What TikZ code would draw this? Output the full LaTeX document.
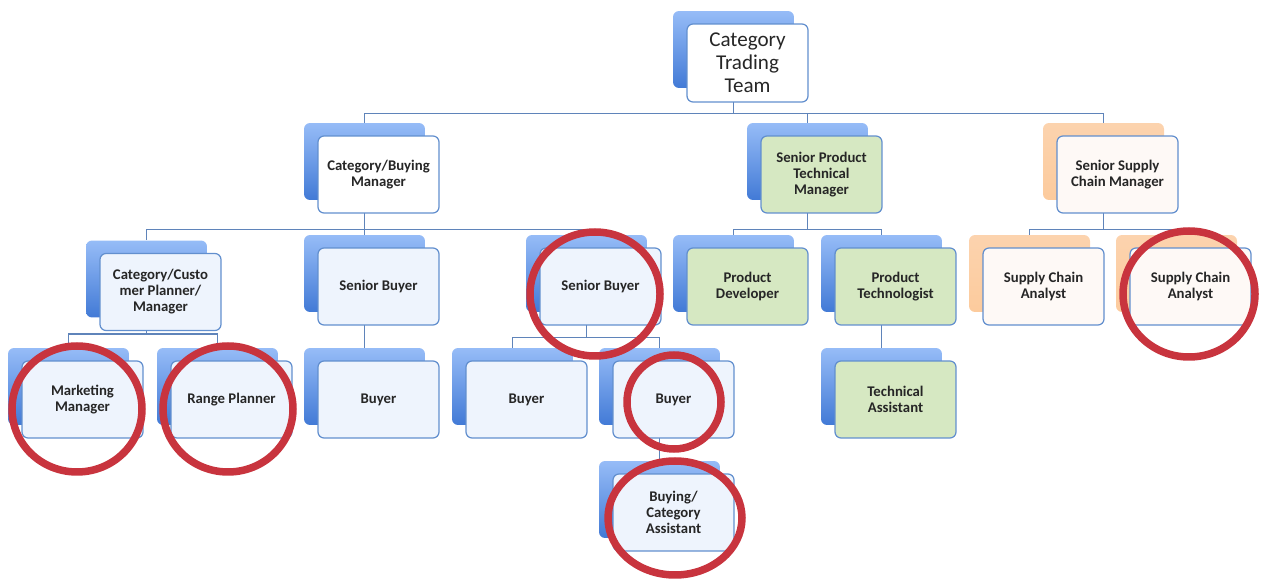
\documentclass[tikz,border=0pt]{standalone}
\usepackage{fontspec}
\setmainfont{Carlito}
\usetikzlibrary{backgrounds}

\definecolor{linkblue}{RGB}{95,132,186}
\definecolor{edgeblue}{RGB}{98,143,206}
\definecolor{backtop}{RGB}{150,188,247}
\definecolor{backbot}{RGB}{66,122,214}
\definecolor{peach}{RGB}{252,211,174}
\definecolor{paleblue}{RGB}{238,244,253}
\definecolor{palegreen}{RGB}{214,232,194}
\definecolor{paleorange}{RGB}{254,249,246}
\definecolor{ringred}{RGB}{200,52,62}
\definecolor{ink}{RGB}{38,38,38}

\begin{document}
\begin{tikzpicture}[x=0.02cm, y=-0.02cm,
    back/.style={rectangle, rounded corners=0.12cm, minimum width=2.42cm, minimum height=1.54cm, inner sep=0pt, top color=backtop, bottom color=backbot},
    peachback/.style={back, top color=peach, bottom color=peach!90!orange},
    front/.style={rectangle, rounded corners=0.12cm, draw=edgeblue, line width=0.7pt, fill=white, minimum width=2.42cm, minimum height=1.54cm, inner sep=0pt, align=center, text=ink, font=\fontsize{8.4}{9.1}\selectfont\bfseries},
    bluebox/.style={front, fill=paleblue},
    greenbox/.style={front, fill=palegreen},
    orangebox/.style={front, fill=paleorange},
    link/.style={draw=linkblue, line width=0.8pt},
    ring/.style={draw=ringred, line width=0.15cm}
]
\useasboundingbox (0,0) rectangle (1261,580);

% top
\node[back] (ctt-b) at (733.5,49.5) {};
\node[front, minimum height=1.56cm, font=\fontsize{12}{13.2}\selectfont] (ctt) at (747.5,63) {Category\\Trading\\Team};

% second row
\node[back] (cbm-b) at (364.5,161.5) {};
\node[front] (cbm) at (378.5,174.5) {Category/Buying\\Manager};
\node[back] (sptm-b) at (807.5,161.5) {};
\node[greenbox] (sptm) at (821.5,174.5) {Senior Product\\Technical\\Manager};
\node[peachback] (sscm-b) at (1103.5,161.5) {};
\node[orangebox] (sscm) at (1117.5,174.5) {Senior Supply\\Chain Manager};

% third row
\node[back] (ccpm-b) at (146.5,279) {};
\node[bluebox] (ccpm) at (160.5,292) {Category/Custo\\mer Planner/\\Manager};
\node[back] (sb1-b) at (364.5,273.5) {};
\node[bluebox] (sb1) at (378.5,286.5) {Senior Buyer};
\node[back] (sb2-b) at (586.5,273.5) {};
\node[bluebox] (sb2) at (600.5,286.5) {Senior Buyer};
\node[back] (pd-b) at (733.5,273.5) {};
\node[greenbox] (pd) at (747.5,286.5) {Product\\Developer};
\node[back] (pt-b) at (881.5,273.5) {};
\node[greenbox] (pt) at (895.5,286.5) {Product\\Technologist};
\node[peachback] (sca1-b) at (1029.5,273.5) {};
\node[orangebox] (sca1) at (1043.5,286.5) {Supply Chain\\Analyst};
\node[peachback] (sca2-b) at (1176.5,273.5) {};
\node[orangebox] (sca2) at (1190.5,286.5) {Supply Chain\\Analyst};

% fourth row
\node[back] (mm-b) at (68.5,386.5) {};
\node[bluebox] (mm) at (82.5,399.5) {Marketing\\Manager};
\node[back] (rp-b) at (217.5,386.5) {};
\node[bluebox] (rp) at (231.5,399.5) {Range Planner};
\node[back] (b1-b) at (364.5,386.5) {};
\node[bluebox] (b1) at (378.5,399.5) {Buyer};
\node[back] (b2-b) at (512.5,386.5) {};
\node[bluebox] (b2) at (526.5,399.5) {Buyer};
\node[back] (b3-b) at (659.5,386.5) {};
\node[bluebox] (b3) at (673.5,399.5) {Buyer};
\node[back] (ta-b) at (881.5,386.5) {};
\node[greenbox] (ta) at (895.5,399.5) {Technical\\Assistant};

% fifth row
\node[back] (bca-b) at (659.5,499.5) {};
\node[bluebox] (bca) at (673.5,512.5) {Buying/\\Category\\Assistant};

% bar levels
\coordinate (ctt-bar) at ([yshift=-0.22cm]ctt.south);
\coordinate (cbm-bar) at ([yshift=-0.32cm]cbm.south);
\coordinate (sptm-bar) at ([yshift=-0.32cm]sptm.south);
\coordinate (sscm-bar) at ([yshift=-0.32cm]sscm.south);
\coordinate (ccpm-bar) at ([yshift=-0.06cm]ccpm.south);
\coordinate (sb2-bar) at ([yshift=-0.24cm]sb2.south);

\begin{scope}[on background layer]
\draw[link] (ctt-b) -- (ctt-b |- ctt-bar) -| (cbm-b);
\draw[link] (ctt-b) -- (ctt-b |- ctt-bar) -| (sptm-b);
\draw[link] (ctt-b) -- (ctt-b |- ctt-bar) -| (sscm-b);
\draw[link] (cbm-b) -- (cbm-b |- cbm-bar) -| (ccpm-b);
\draw[link] (cbm-b) -- (cbm-b |- cbm-bar) -| (sb1-b);
\draw[link] (cbm-b) -- (cbm-b |- cbm-bar) -| (sb2-b);
\draw[link] (sptm-b) -- (sptm-b |- sptm-bar) -| (pd-b);
\draw[link] (sptm-b) -- (sptm-b |- sptm-bar) -| (pt-b);
\draw[link] (sscm-b) -- (sscm-b |- sscm-bar) -| (sca1-b);
\draw[link] (sscm-b) -- (sscm-b |- sscm-bar) -| (sca2-b);
\draw[link] (ccpm-b) -- (ccpm-b |- ccpm-bar) -| (mm-b);
\draw[link] (ccpm-b) -- (ccpm-b |- ccpm-bar) -| (rp-b);
\draw[link] (sb1-b) -- (b1-b);
\draw[link] (sb2-b) -- (sb2-b |- sb2-bar) -| (b2-b);
\draw[link] (sb2-b) -- (sb2-b |- sb2-bar) -| (b3-b);
\draw[link] (pt-b) -- (ta-b);
\draw[link] (b3-b) -- (bca-b);
\end{scope}

% red rings
\draw[ring] (77,409) ellipse [x radius=65, y radius=63];
\draw[ring] (228,409) ellipse [x radius=65, y radius=63];
\draw[ring] (595,294) ellipse [x radius=65, y radius=62];
\draw[ring] (674,402) ellipse [x radius=47, y radius=47];
\draw[ring] (675,518) ellipse [x radius=67, y radius=57];
\draw[ring] (1189,294) ellipse [x radius=66, y radius=63];
\end{tikzpicture}
\end{document}
